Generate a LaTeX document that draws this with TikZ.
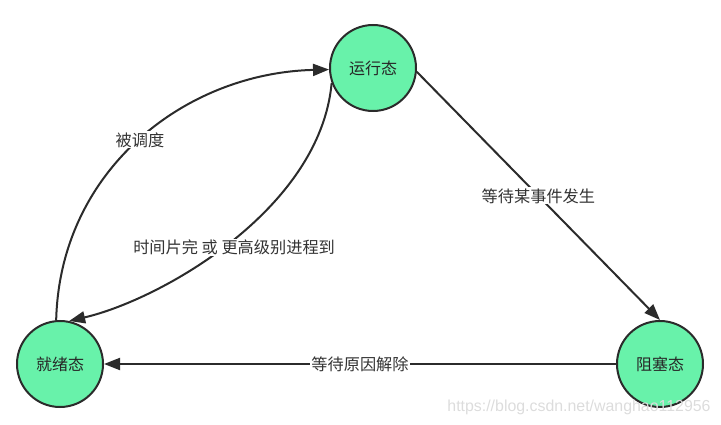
\documentclass[tikz,border=0pt]{standalone}
\usepackage{fontspec}
\setmainfont{Noto Sans CJK SC}
\newfontfamily\markfont{Liberation Sans}
\usepackage{tikz}
\usetikzlibrary{
  shapes.geometric
  , calc
  % ------
 , arrows.meta
}

\definecolor{stategreen}{RGB}{104,242,170}
\definecolor{edgegray}{RGB}{43,43,43}
\definecolor{markgray}{RGB}{220,220,220}

\begin{document}
\begin{tikzpicture}[x=1pt, y=-1pt,
    state/.style={draw=edgegray, circle, line width=2pt, fill=stategreen,
      minimum size=86pt, inner sep=0pt, font=\fontsize{16}{16}\selectfont, text=black!85},
    link/.style={-{Triangle[length=16pt, width=12pt]}, line width=2pt, edgegray},
    lab/.style={fill=white, inner sep=1pt, text=black!80, font=\fontsize{16.2}{16}\selectfont},
  ]
      \useasboundingbox (0,0) rectangle (721,425);

      \node [state] (run) at (373,68) {运行态};
      \node [state] (ready) at (60,364) {就绪态};
      \node [state] (block) at (660,364) {阻塞态};

      \draw[link] (run.-5) --node[lab, midway]{等待某事件发生} (block.north);
      \draw[link] (block.west) --node[lab, midway]{等待原因解除} (ready.east);
      \draw[link] (ready.95) .. controls (60,170) and (185,73) ..node[lab, pos=0.5]{被调度} (run.182);
      \draw[link] (run.200) .. controls (320,210) and (160,300) ..node[lab, pos=0.5, xshift=4pt, yshift=-6pt]{时间片完 或 更高级别进程到} (ready.78);

      \node[text=markgray, font=\markfont\fontsize{15.9}{15.9}\selectfont] (mark) at (579,407) {https://blog.csdn.net/wanghao112956};
    \end{tikzpicture}
\end{document}
